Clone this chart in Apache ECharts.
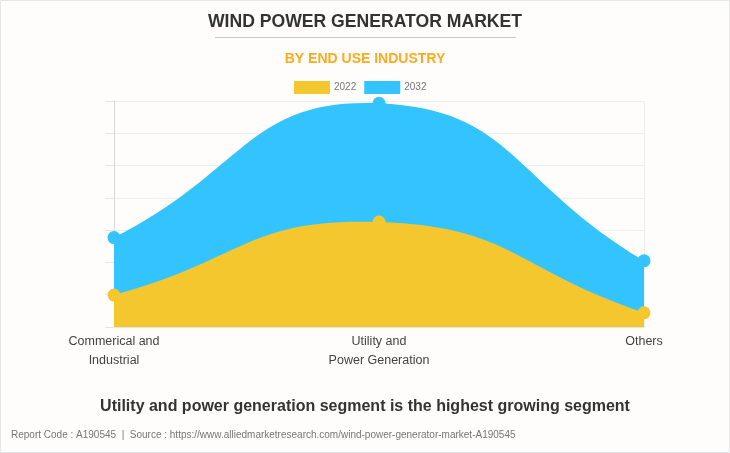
<!DOCTYPE html>
<html><head><meta charset="utf-8">
<style>html,body{margin:0;padding:0;background:#fefdfc}#c{width:730px;height:453px}</style>
<script src="https://cdn.jsdelivr.net/npm/echarts@6/dist/echarts.min.js"></script>
</head><body><div id="c"></div>
<script>
const categories = ['Commerical and\nIndustrial', 'Utility and\nPower Generation', 'Others'];
const seriesNames = ['2022', '2032'];
const values2022 = [0.99, 3.25, 0.44];
const values2032 = [2.77, 6.93, 2.05];
const mainTitle = 'WIND POWER GENERATOR MARKET';
const subTitle = 'BY END USE INDUSTRY';
const insight = 'Utility and power generation segment is the highest growing segment';
const source = 'Report Code : A190545  |  Source : https://www.alliedmarketresearch.com/wind-power-generator-market-A190545';
const FF = '"Liberation Sans", Arial, sans-serif';
const TENSION = 0.5;
const chart = echarts.init(document.getElementById('c'), null, {renderer:'canvas'});
const txt = (left, top, text, size, weight, color) => ({left, top, text, textStyle:{fontFamily:FF, fontSize:size, fontWeight:weight, color}, padding:0});

// Filled spline through the data points, positioned by the chart's own axes.
function splineArea(values, color) {
  return function (params, api) {
    if (params.dataIndex !== 0) return null;
    const pts = values.map((v, i) => api.coord([i, v]));
    const base = api.coord([0, 0])[1];
    const ctrl = pts.map((p, i) => {
      const a = pts[Math.max(i - 1, 0)], b = pts[Math.min(i + 1, pts.length - 1)];
      const d01 = Math.hypot(p[0] - a[0], p[1] - a[1]), d12 = Math.hypot(b[0] - p[0], b[1] - p[1]);
      const s = d01 + d12, fa = TENSION * d01 / s, fb = TENSION * d12 / s;
      return {
        prev: [p[0] - fa * (b[0] - a[0]), p[1] - fa * (b[1] - a[1])],
        next: [p[0] + fb * (b[0] - a[0]), p[1] + fb * (b[1] - a[1])]
      };
    });
    let d = 'M' + pts[0][0] + ' ' + base + 'L' + pts[0][0] + ' ' + pts[0][1];
    for (let i = 1; i < pts.length; i++) {
      d += 'C' + ctrl[i - 1].next.join(' ') + ' ' + ctrl[i].prev.join(' ') + ' ' + pts[i].join(' ');
    }
    d += 'L' + pts[pts.length - 1][0] + ' ' + base + 'Z';
    return {type:'path', silent:true, shape:{pathData:d}, style:{fill:color}};
  };
}
const areaSeries = (name, values, color, z) => ({
  name, type:'custom', z, silent:true, data:values.map((v, i) => [i, v]), encode:{x:0, y:1},
  renderItem:splineArea(values, color), itemStyle:{color}
});
const markerSeries = (name, values, color, z) => ({
  name, type:'line', data:values, z, symbol:'circle', symbolSize:13, showSymbol:true, clip:false,
  itemStyle:{color}, lineStyle:{width:0, opacity:0}
});

chart.setOption({
  animation:false,
  backgroundColor:'#fefdfc',
  title:[
    txt('center', 13, mainTitle, 17.6, 'bold', '#333333'),
    txt('center', 52, subTitle, 14, 'bold', '#fbab1e'),
    txt('center', 399, insight, 16, 'bold', '#333333'),
    txt(11, 430, source, 10, 'normal', '#777777')
  ],
  legend:{
    top:81, left:294, padding:0, itemWidth:36, itemHeight:13, itemGap:8, icon:'rect',
    data:seriesNames,
    textStyle:{fontFamily:FF, fontSize:10, color:'#777777', padding:[0,0,0,-1]}
  },
  grid:{left:114, right:86, top:101, bottom:126, containLabel:false},
  xAxis:{
    type:'category', boundaryGap:false, data:categories,
    axisLine:{show:true, lineStyle:{color:'#e4e4e4'}},
    axisTick:{show:false},
    axisLabel:{fontFamily:FF, fontSize:12.5, color:'#444444', lineHeight:19, margin:5, interval:0},
    splitLine:{show:true, lineStyle:{color:'#eeeeee'}}
  },
  yAxis:{
    type:'value', min:0, max:7, interval:1,
    axisLine:{show:true, lineStyle:{color:'#d8d8d8'}},
    axisTick:{show:true, length:9, lineStyle:{color:'#e6e6e6'}},
    axisLabel:{show:false},
    splitLine:{show:true, lineStyle:{color:'#eeeeee'}}
  },
  series:[
    areaSeries(seriesNames[1], values2032, '#33c4ff', 2),
    markerSeries(seriesNames[1], values2032, '#33c4ff', 3),
    areaSeries(seriesNames[0], values2022, '#f4c72e', 4),
    markerSeries(seriesNames[0], values2022, '#f4c72e', 5)
  ],
  graphic:[
    {type:'rect', silent:true, z:-1, shape:{x:0.5,y:0.5,width:729,height:452}, style:{fill:'none', stroke:'#e4e6e8', lineWidth:1}},
    {type:'line', silent:true, shape:{x1:215,y1:37.5,x2:516,y2:37.5}, style:{stroke:'#c8c8c8', lineWidth:1}}
  ]
});
</script></body></html>
